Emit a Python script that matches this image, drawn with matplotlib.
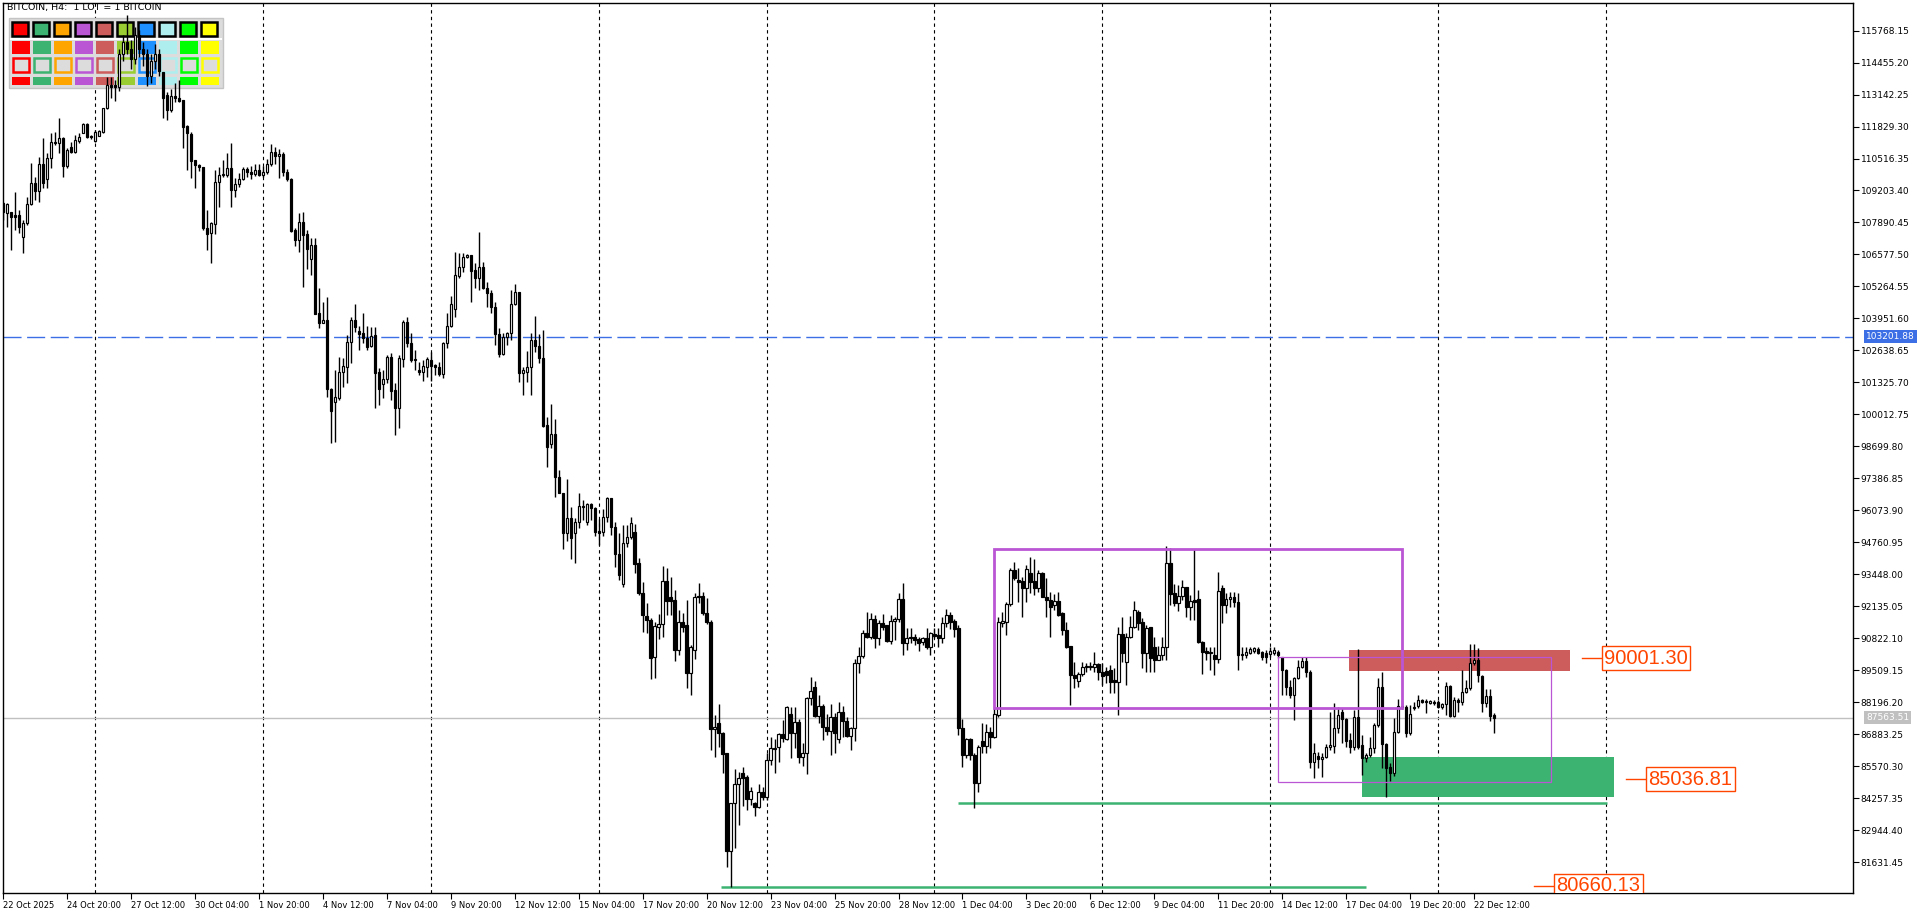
import numpy as np
import pandas as pd
import matplotlib
matplotlib.use("Agg")
import matplotlib.pyplot as plt
from matplotlib.patches import Rectangle
from matplotlib.transforms import ScaledTranslation, blended_transform_factory

W, H = 1920, 915

# BITCOIN H4 candles, prices in thousands of dollars
opens = [
    108.68, 108.29, 108.33, 108.20, 108.20, 107.28, 107.85, 108.63, 109.52, 109.19,
    110.28, 109.66, 110.52, 111.21, 111.14, 111.35, 110.22, 111.00, 110.79, 111.25,
    111.57, 111.92, 111.46, 111.25, 111.46, 111.62, 112.57, 113.53, 113.53, 113.46,
    114.80, 115.30, 115.00, 114.60, 115.60, 115.00, 114.80, 113.90, 114.50, 114.80,
    114.05, 113.12, 112.51, 113.08, 113.01, 112.92, 111.85, 111.52, 110.45, 110.23,
    110.18, 107.65, 107.44, 107.81, 109.56, 109.82, 109.84, 110.11, 109.22, 109.47,
    109.66, 110.07, 109.97, 109.90, 110.05, 109.84, 109.98, 110.30, 110.80, 110.60,
    110.70, 109.98, 109.66, 107.58, 107.17, 107.92, 107.40, 106.39, 106.97, 104.16,
    103.78, 103.89, 101.04, 100.51, 100.67, 101.77, 101.97, 102.99, 103.89, 103.43,
    103.34, 103.16, 102.83, 103.27, 101.77, 101.25, 101.45, 102.35, 101.01, 100.26,
    102.29, 103.79, 102.93, 102.29, 101.83, 101.77, 101.97, 102.24, 102.04, 101.94,
    101.66, 102.93, 103.64, 104.33, 105.69, 106.05, 106.46, 106.56, 105.94, 105.63,
    106.05, 105.19, 104.98, 104.41, 103.30, 102.49, 103.18, 103.34, 104.54, 105.05,
    101.70, 101.77, 101.94, 103.07, 102.82, 102.31, 99.58, 98.78, 99.19, 97.46,
    96.77, 95.13, 95.74, 95.13, 95.58, 96.26, 95.58, 96.32, 96.18, 95.24,
    95.20, 95.81, 96.56, 95.37, 94.28, 93.05, 94.72, 94.99, 95.20, 93.90,
    92.66, 91.74, 91.57, 90.06, 91.30, 91.39, 93.17, 92.50, 92.39, 90.34,
    91.50, 91.36, 89.41, 90.34, 92.55, 92.55, 91.84, 91.47, 87.08, 87.33,
    86.92, 86.10, 82.10, 84.04, 84.84, 85.27, 85.11, 84.21, 84.04, 83.88,
    84.49, 84.29, 85.82, 86.30, 86.34, 86.89, 86.68, 87.71, 86.94, 87.40,
    85.93, 86.12, 88.35, 88.83, 87.63, 88.05, 87.19, 87.03, 87.57, 86.67,
    87.81, 87.44, 86.82, 87.12, 89.79, 90.10, 91.05, 90.89, 91.60, 90.84,
    91.43, 91.36, 90.72, 91.54, 91.60, 92.42, 90.64, 90.89, 90.89, 90.78,
    90.68, 90.82, 90.47, 90.99, 90.95, 90.82, 91.46, 91.77, 91.54, 91.23,
    87.12, 86.03, 86.67, 86.03, 84.87, 86.61, 86.40, 86.98, 86.75, 87.69,
    91.46, 91.50, 92.23, 93.62, 93.21, 93.17, 92.90, 93.51, 93.17, 92.90,
    93.49, 92.50, 92.39, 92.19, 92.36, 91.87, 91.16, 90.50, 89.31, 89.06,
    89.35, 89.63, 89.65, 89.65, 89.76, 89.45, 89.49, 89.52, 89.10, 89.04,
    90.99, 89.86, 90.88, 91.30, 91.91, 91.50, 90.20, 91.27, 90.47, 89.93,
    90.13, 90.45, 93.90, 92.66, 92.28, 92.56, 92.94, 92.09, 92.39, 92.43,
    90.68, 90.31, 90.20, 90.13, 89.95, 92.90, 92.19, 92.42, 92.53, 92.32,
    90.17, 90.13, 90.23, 90.31, 90.36, 90.27, 90.23, 90.17, 90.20, 90.27,
    90.04, 89.52, 88.83, 88.49, 89.17, 89.65, 89.90, 89.45, 85.75, 85.99,
    85.85, 85.93, 86.37, 86.40, 87.12, 87.81, 87.49, 86.64, 86.37, 87.57,
    86.44, 85.89, 86.03, 86.30, 87.26, 88.80, 86.48, 85.55, 85.30, 86.98,
    88.04, 87.98, 86.92, 87.95, 88.04, 88.29, 88.22, 88.18, 88.22, 88.22,
    87.98, 88.12, 88.86, 87.63, 88.29, 88.22, 88.63, 88.76, 89.79, 89.93,
    89.27, 88.18, 88.45, 87.67,
]
highs = [
    108.75, 108.68, 108.33, 109.15, 108.40, 107.99, 108.95, 110.32, 109.77, 110.59,
    111.37, 110.73, 111.55, 111.62, 112.17, 111.41, 110.93, 111.21, 111.48, 111.55,
    111.96, 111.96, 111.50, 111.69, 111.69, 112.57, 113.87, 113.87, 113.74, 115.00,
    115.60, 116.40, 115.40, 115.90, 115.80, 115.30, 115.00, 114.80, 115.20, 115.00,
    114.08, 113.26, 113.36, 113.60, 113.74, 112.92, 111.89, 111.62, 110.45, 110.30,
    110.18, 108.40, 107.92, 110.04, 110.18, 110.45, 110.73, 111.14, 109.70, 109.91,
    110.18, 110.18, 110.20, 110.30, 110.30, 110.20, 110.50, 111.10, 111.00, 110.90,
    110.80, 110.10, 109.70, 107.65, 108.27, 108.33, 107.58, 107.24, 107.24, 105.19,
    104.64, 104.84, 101.08, 101.83, 102.38, 102.31, 103.27, 104.02, 104.55, 103.64,
    104.19, 103.64, 103.59, 103.61, 101.90, 101.83, 102.45, 102.52, 101.29, 102.45,
    103.89, 104.02, 103.34, 102.66, 102.15, 102.24, 102.38, 102.59, 102.08, 102.18,
    103.00, 104.16, 104.87, 106.69, 106.65, 106.62, 106.58, 106.56, 106.21, 107.51,
    106.28, 105.46, 105.12, 104.64, 103.54, 103.34, 103.41, 105.12, 105.36, 105.05,
    101.94, 102.63, 103.34, 104.05, 103.31, 103.48, 99.92, 100.44, 99.81, 97.73,
    96.77, 97.35, 96.22, 95.74, 96.77, 96.50, 96.39, 96.36, 96.22, 95.70,
    96.11, 96.63, 96.56, 95.61, 95.13, 95.47, 95.47, 95.80, 95.50, 94.10,
    93.14, 92.28, 91.64, 91.50, 91.82, 93.79, 93.69, 93.35, 92.80, 91.98,
    91.84, 92.39, 90.54, 92.66, 93.07, 92.73, 92.46, 91.57, 87.67, 88.12,
    86.98, 86.12, 84.04, 85.44, 85.34, 85.55, 85.21, 84.73, 84.11, 84.84,
    84.73, 86.12, 86.78, 86.67, 86.94, 87.46, 88.04, 88.01, 88.01, 87.49,
    86.53, 88.42, 89.21, 89.08, 88.49, 88.12, 87.71, 88.12, 87.74, 88.22,
    88.04, 87.57, 87.19, 89.95, 90.45, 91.16, 91.91, 91.84, 91.77, 91.57,
    91.82, 91.36, 91.77, 91.71, 92.66, 93.07, 91.23, 91.23, 90.99, 90.88,
    90.88, 91.23, 91.09, 91.23, 91.23, 91.68, 92.01, 91.91, 91.60, 91.36,
    87.49, 86.71, 86.71, 86.10, 86.44, 87.33, 87.30, 87.19, 87.94, 91.71,
    91.91, 92.32, 93.69, 93.97, 93.69, 93.35, 93.83, 94.14, 94.06, 93.62,
    93.55, 93.28, 92.73, 92.64, 92.73, 91.91, 91.50, 90.50, 89.86, 89.45,
    89.86, 89.79, 89.86, 90.27, 89.82, 89.79, 89.65, 89.72, 89.58, 91.30,
    91.71, 91.05, 91.73, 92.35, 91.98, 91.64, 91.36, 91.30, 90.88, 90.50,
    90.88, 94.61, 94.51, 93.05, 93.01, 93.21, 92.94, 92.60, 94.47, 92.80,
    90.72, 90.47, 90.45, 90.47, 93.55, 93.01, 92.66, 92.73, 92.73, 92.69,
    90.47, 90.45, 90.47, 90.45, 90.47, 90.31, 90.34, 90.47, 90.45, 90.34,
    90.06, 89.54, 89.11, 89.24, 89.93, 90.06, 90.06, 89.52, 86.51, 86.17,
    86.10, 86.48, 87.81, 88.15, 88.01, 87.94, 87.53, 86.92, 87.87, 90.36,
    86.85, 86.10, 86.78, 87.33, 89.17, 89.45, 86.53, 85.68, 87.53, 88.31,
    88.29, 88.08, 88.08, 88.22, 88.49, 88.31, 88.31, 88.29, 88.29, 88.29,
    88.15, 89.04, 88.90, 88.40, 88.35, 89.52, 89.11, 90.58, 90.58, 90.41,
    89.31, 88.72, 88.72, 87.74,
]
lows = [
    107.99, 107.72, 106.76, 107.58, 107.44, 106.65, 107.78, 108.60, 108.81, 108.74,
    109.29, 109.29, 110.11, 111.07, 110.73, 109.74, 110.11, 110.73, 110.75, 111.14,
    111.55, 111.34, 111.30, 111.21, 111.44, 111.55, 112.55, 113.00, 112.89, 113.30,
    114.50, 114.80, 114.20, 114.40, 114.70, 114.30, 113.50, 113.60, 114.20, 113.90,
    112.17, 112.10, 112.44, 112.85, 112.85, 110.93, 110.04, 109.70, 109.29, 110.00,
    107.60, 106.76, 106.21, 107.42, 108.54, 109.77, 109.77, 108.54, 108.95, 109.36,
    109.63, 109.77, 109.66, 109.80, 109.80, 109.75, 109.90, 110.20, 110.30, 109.70,
    109.80, 109.60, 107.50, 106.92, 106.69, 105.26, 105.98, 105.73, 104.13, 103.55,
    103.78, 100.74, 98.82, 98.89, 100.60, 101.15, 101.29, 102.11, 103.41, 102.66,
    102.93, 102.66, 102.79, 100.26, 100.40, 100.67, 101.29, 100.60, 99.17, 99.47,
    101.97, 102.79, 102.18, 101.83, 101.63, 101.40, 101.56, 101.40, 101.63, 101.60,
    101.49, 102.72, 103.61, 104.02, 105.60, 105.87, 106.42, 104.64, 105.19, 105.12,
    105.15, 104.43, 104.19, 102.86, 102.38, 102.45, 102.86, 103.07, 104.50, 101.35,
    100.81, 101.35, 100.81, 102.59, 102.11, 99.51, 97.84, 98.62, 96.61, 96.77,
    94.47, 94.83, 94.06, 93.92, 95.33, 95.68, 95.47, 95.68, 95.02, 94.65,
    95.02, 95.61, 95.06, 93.73, 93.21, 92.91, 94.58, 94.90, 93.51, 92.60,
    91.09, 91.02, 89.13, 89.20, 90.79, 90.88, 91.77, 91.77, 89.90, 90.13,
    91.09, 88.76, 88.49, 89.95, 92.25, 91.77, 91.40, 86.23, 85.96, 86.34,
    85.27, 81.42, 80.62, 82.20, 83.15, 83.93, 83.77, 83.97, 83.52, 83.84,
    84.18, 84.18, 85.62, 85.27, 85.75, 86.57, 86.64, 85.89, 86.33, 85.71,
    85.57, 85.23, 88.08, 87.60, 87.35, 86.64, 86.85, 86.03, 86.10, 86.53,
    86.78, 86.75, 86.23, 86.62, 89.38, 89.99, 90.82, 90.78, 90.41, 90.54,
    91.16, 90.68, 90.58, 90.75, 91.50, 90.13, 90.34, 90.61, 90.54, 90.31,
    90.54, 90.36, 90.13, 90.82, 90.47, 90.64, 91.30, 91.19, 90.86, 86.85,
    85.55, 85.89, 85.82, 83.84, 84.52, 86.10, 86.12, 86.30, 86.71, 87.60,
    91.30, 90.95, 92.15, 93.21, 92.32, 91.71, 92.32, 92.66, 92.60, 92.73,
    92.50, 91.71, 90.86, 91.98, 91.73, 90.95, 90.41, 88.08, 88.76, 88.83,
    89.27, 89.45, 89.52, 89.45, 89.10, 88.90, 88.97, 88.59, 88.59, 87.67,
    89.86, 88.90, 90.82, 91.23, 91.16, 89.59, 89.45, 89.45, 89.45, 89.93,
    89.93, 89.93, 92.19, 92.15, 91.95, 92.39, 91.71, 91.57, 91.57, 90.61,
    89.35, 89.93, 89.52, 89.31, 89.82, 91.46, 91.84, 92.12, 92.09, 89.52,
    89.93, 90.00, 90.17, 90.23, 90.17, 89.93, 89.79, 90.06, 90.13, 89.99,
    88.49, 88.49, 88.35, 87.46, 89.13, 89.59, 89.24, 85.48, 85.07, 85.48,
    85.14, 85.89, 86.23, 86.10, 86.92, 86.51, 86.37, 86.10, 86.23, 86.26,
    85.21, 85.75, 85.93, 86.10, 87.19, 85.48, 84.32, 84.97, 85.17, 86.92,
    87.90, 86.78, 86.85, 87.88, 87.94, 88.18, 87.74, 88.12, 88.08, 87.94,
    87.90, 87.67, 87.60, 87.60, 87.81, 88.08, 88.59, 88.70, 89.72, 89.04,
    87.81, 88.01, 87.44, 86.92,
]
closes = [
    108.34, 108.65, 108.13, 108.13, 107.69, 107.85, 108.65, 109.52, 109.19, 110.28,
    109.52, 110.52, 111.21, 111.14, 111.35, 110.22, 110.86, 110.79, 111.27, 111.38,
    111.92, 111.41, 111.41, 111.62, 111.64, 112.57, 113.53, 113.46, 113.46, 114.80,
    115.30, 115.00, 114.60, 115.60, 115.00, 114.80, 113.90, 114.50, 114.80, 114.10,
    112.99, 112.51, 113.08, 112.99, 112.89, 111.82, 111.58, 110.43, 110.23, 110.15,
    107.65, 107.42, 107.88, 109.56, 109.86, 109.86, 110.11, 109.22, 109.47, 109.66,
    110.07, 109.97, 109.90, 110.05, 109.84, 109.98, 110.30, 110.80, 110.60, 110.70,
    109.98, 109.66, 107.55, 107.17, 107.92, 107.38, 106.80, 106.97, 104.13, 103.78,
    103.89, 101.04, 100.17, 100.71, 101.77, 101.99, 102.99, 103.89, 103.59, 103.31,
    103.13, 102.79, 103.24, 101.72, 101.04, 101.46, 102.35, 100.99, 100.29, 102.31,
    103.79, 102.93, 102.24, 102.24, 101.77, 101.99, 102.29, 102.01, 101.94, 101.66,
    102.93, 103.64, 104.53, 105.73, 106.05, 106.46, 106.56, 105.91, 105.60, 106.05,
    105.19, 104.98, 104.41, 103.30, 102.49, 103.18, 103.34, 104.54, 105.05, 101.70,
    101.83, 101.94, 103.07, 102.82, 102.31, 99.54, 98.66, 99.19, 97.46, 96.77,
    95.13, 95.74, 94.92, 95.58, 96.26, 96.22, 96.32, 96.16, 95.20, 95.16,
    95.81, 96.56, 95.37, 94.28, 93.42, 94.72, 94.99, 95.54, 93.87, 92.66,
    91.77, 91.57, 90.02, 91.32, 91.40, 93.17, 92.35, 92.35, 90.34, 91.50,
    91.30, 89.41, 90.45, 92.53, 92.50, 91.84, 91.47, 87.08, 87.16, 86.92,
    86.05, 82.10, 84.04, 84.84, 85.07, 85.07, 84.21, 84.55, 83.88, 84.49,
    84.32, 85.82, 86.30, 86.27, 86.89, 86.71, 87.98, 86.94, 87.40, 85.93,
    86.12, 88.35, 88.67, 87.63, 88.05, 87.19, 87.03, 87.57, 86.94, 87.81,
    87.44, 86.81, 87.12, 89.79, 90.10, 91.05, 90.89, 91.60, 90.84, 91.43,
    91.30, 90.72, 91.54, 91.60, 92.42, 90.64, 90.82, 90.82, 90.75, 90.61,
    90.82, 90.47, 91.02, 90.91, 90.82, 91.46, 91.77, 91.50, 91.19, 87.12,
    86.03, 86.67, 86.03, 84.87, 86.37, 86.40, 86.98, 86.75, 87.71, 91.50,
    91.54, 92.23, 93.62, 93.28, 93.14, 92.90, 93.65, 93.14, 92.87, 93.49,
    92.50, 92.39, 92.09, 92.36, 91.77, 91.16, 90.47, 89.31, 89.17, 89.35,
    89.63, 89.65, 89.69, 89.76, 89.45, 89.27, 89.31, 89.04, 89.04, 90.99,
    90.23, 90.88, 91.30, 91.98, 91.46, 90.20, 91.23, 90.00, 89.93, 90.13,
    90.47, 93.90, 92.64, 92.28, 92.56, 92.94, 92.09, 92.36, 92.32, 90.68,
    90.27, 90.23, 90.27, 89.95, 92.77, 92.19, 92.42, 92.53, 92.32, 90.13,
    90.13, 90.27, 90.36, 90.40, 90.23, 90.06, 90.04, 90.31, 90.34, 90.13,
    89.52, 88.83, 88.49, 89.17, 89.65, 89.90, 89.45, 85.75, 86.10, 85.85,
    85.96, 86.37, 86.44, 87.12, 87.67, 87.49, 86.62, 86.37, 87.57, 86.37,
    85.89, 86.03, 86.30, 87.26, 88.80, 86.48, 85.48, 85.30, 86.98, 88.04,
    88.01, 86.92, 87.70, 88.01, 88.29, 88.22, 88.26, 88.24, 88.15, 87.98,
    88.12, 88.86, 87.63, 88.29, 88.22, 88.63, 88.76, 89.79, 89.93, 89.31,
    88.18, 88.45, 87.63, 87.56,
]

first_bar = "2025-10-22 04:00"
bid_price = 87563.51
blue_level = 103201.88

# chart objects (time in bar numbers, price in dollars)
big_box = [247.9, 350.0, 87970, 94485]
small_box = [319.0, 387.25, 84907, 90051]
red_zone = [336.75, 392.0, 89490, 90340]
green_zone = [340.0, 403.0, 84316, 85958]
green_lines = [(239.0, 401.3, 84070), (179.5, 341.0, 80597)]
price_tags = [(90001.30, 400.5), (85036.81, 411.5), (80660.13, 388.5)]

palette = ["#FF0000", "#3CB371", "#FFA500", "#BA55D3", "#CD5C5C",
           "#9ACD32", "#1E90FF", "#AFEEEE", "#00FF00", "#FFFF00"]

o = np.array(opens) * 1000
h = np.array(highs) * 1000
l = np.array(lows) * 1000
c = np.array(closes) * 1000
n = len(c)
idx = np.arange(n)

fig = plt.figure(figsize=(W / 100, H / 100), dpi=100)
fig.patch.set_facecolor("white")
ax = fig.add_axes([3 / W, 1 - 893 / H, 1850 / W, 890 / H])
ax.set_xlim(0.25, 462.75)
ax.set_ylim(80362, 116901)

# weekly separators (only as far as the chart objects reach)
times = pd.date_range(first_bar, periods=470, freq="4h")
for i, t in enumerate(times):
    if t.dayofweek == 6 and t.hour == 0 and i <= 410:
        ax.axvline(i, color="black", lw=0.8, ls=(0, (3, 3)), zorder=0.5)

ax.axhline(blue_level, color="#3C6EE6", lw=1.0, ls=(0, (13, 4)), zorder=1)
ax.axhline(bid_price, color="#C0C0C0", lw=1.0, zorder=1)

# zones under the candles
for z, col in ((red_zone, "#CD5C5C"), (green_zone, "#3CB371")):
    ax.add_patch(Rectangle((z[0], z[2]), z[1] - z[0], z[3] - z[2],
                           fc=col, ec="none", zorder=1.5))
for x0, x1, p in green_lines:
    ax.plot([x0, x1], [p, p], color="#3CB371", lw=1.8, zorder=2, solid_capstyle="butt")


def fig_rect(x0, y0, x1, y1, **kw):
    return Rectangle((x0 / W, 1 - y1 / H), (x1 - x0) / W, (y1 - y0) / H,
                     transform=fig.transFigure, **kw)


# colour panel (top left), sits below the candles
ax.add_patch(fig_rect(9, 18, 223, 88, fc="#DCDCDC", ec="#C4C4C4", lw=1, zorder=2))
ax.add_patch(fig_rect(10, 38, 222, 39.5, fc="white", ec="none", zorder=2))
for k, col in enumerate(palette):
    x0 = 12 + 21 * k
    ax.add_patch(fig_rect(x0, 22, x0 + 16, 35.5, fc=col, ec="black", lw=1.8, zorder=2.1))
    ax.add_patch(fig_rect(x0, 41, x0 + 18, 54, fc=col, ec="none", zorder=2.1))
    ax.add_patch(fig_rect(x0 + 1, 58, x0 + 17, 72, fc="#DCDCDC", ec=col, lw=1.8, zorder=2.1))
    ax.add_patch(fig_rect(x0, 77, x0 + 18, 85, fc=col, ec="none", zorder=2.1))

# candles
ax.vlines(idx, l, h, color="black", lw=1.0, zorder=3)
body_lo = np.minimum(o, c)
body_h = np.maximum(np.abs(c - o), 45)
face = np.where(c >= o, "white", "black")
ax.bar(idx, body_h, bottom=body_lo, width=0.58, color=face,
       edgecolor="black", linewidth=0.85, zorder=4)

# rectangles drawn on top
for b, lw in ((big_box, 2.0), (small_box, 0.9)):
    ax.add_patch(Rectangle((b[0], b[2]), b[1] - b[0], b[3] - b[2],
                           fill=False, ec="#BA55D3", lw=lw, zorder=5))

for p, x_box in price_tags:
    ax.plot([x_box - 5.5, x_box], [p, p], color="orangered", lw=1.0, zorder=6)
    ax.text(x_box, p, f"{p:.2f}", ha="left", va="center", fontsize=14.5,
            family="Liberation Sans", color="orangered", zorder=6, clip_on=True,
            bbox=dict(boxstyle="square,pad=0.12", fc="white", ec="orangered", lw=1.0))

# axes and ticks
for s in ax.spines.values():
    s.set_color("black")
    s.set_linewidth(1.0)

tick_idx = list(range(0, n, 16))
labels = []
for i in tick_idx:
    t = times[i]
    labels.append(f"{t.day} {t:%b %Y}" if i == 0 else f"{t.day} {t:%b %H:%M}")
ax.set_xticks(tick_idx)
ax.set_xticklabels(labels, fontsize=6.0, ha="left")
shift = ScaledTranslation(2 / 100, 0, fig.dpi_scale_trans)
for lab in ax.get_xticklabels():
    lab.set_transform(lab.get_transform() + shift)
ax.tick_params(axis="x", direction="out", length=4, width=0.8, pad=1.5)

yt = [115768.15 - 1312.95 * k for k in range(27)]
ax.yaxis.tick_right()
ax.set_yticks(yt)
ax.set_yticklabels([f"{v:.2f}" for v in yt], fontsize=6.5)
ax.tick_params(axis="y", direction="out", length=4, width=0.8, pad=1.5)

trans = blended_transform_factory(ax.transAxes, ax.transData)
ax.text(1 + 13 / 1850, blue_level, f"{blue_level:.2f}", transform=trans, ha="left",
        va="center", fontsize=6.5, color="white", clip_on=False, zorder=7,
        bbox=dict(boxstyle="square,pad=0.2", fc="#3C6EE6", ec="none"))
ax.text(1 + 13 / 1850, bid_price, f"{bid_price:.2f}", transform=trans, ha="left",
        va="center", fontsize=6.5, color="white", clip_on=False, zorder=7,
        bbox=dict(boxstyle="square,pad=0.2", fc="#C0C0C0", ec="none"))

fig.text(7 / W, 1 - 3 / H, "BITCOIN, H4:  1 LOT = 1 BITCOIN", fontsize=6.8,
         ha="left", va="top")

fig.savefig("out.png", dpi=100)
